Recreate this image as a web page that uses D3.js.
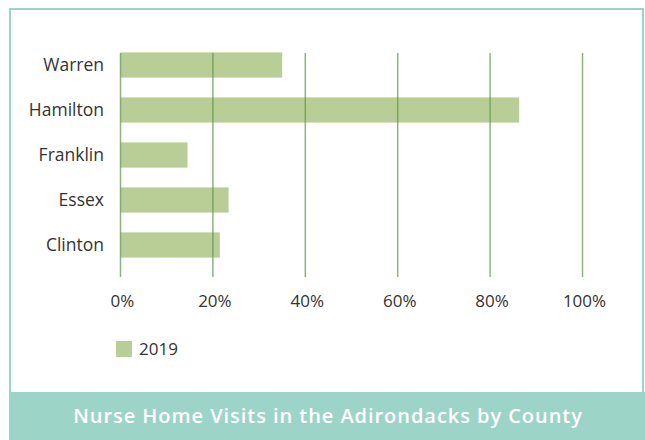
<!DOCTYPE html>
<html>
<head>
<meta charset="utf-8">
<script src="https://cdn.jsdelivr.net/npm/d3@7"></script>
<style>
  body { margin: 0; background: #fff; }
  svg { display: block; }
</style>
</head>
<body>
<div id="showBox"></div>
<script>
// data
const counties = ["Warren", "Hamilton", "Franklin", "Essex", "Clinton"];
const visits2019 = [35, 86.3, 14.5, 23.4, 21.5];
const tickValues = [0, 20, 40, 60, 80, 100];
const seriesName = "2019";
const title = "Nurse Home Visits in the Adirondacks by County";

const width = 645, height = 440;
const teal = "#9dd4c8";
const barColor = "#b8ce96";
const gridColor = "#5f934a";

const svg = d3.select("#showBox").append("svg")
    .attr("width", width)
    .attr("height", height)
    .style("font-family", "'Open Sans', sans-serif");

// frame
svg.append("rect")
    .attr("x", 10).attr("y", 9)
    .attr("width", 633).attr("height", 390)
    .attr("fill", "#fff")
    .attr("stroke", teal)
    .attr("stroke-width", 2);

// title band
svg.append("rect")
    .attr("x", 9).attr("y", 392)
    .attr("width", 636).attr("height", 48)
    .attr("fill", teal);

svg.append("text")
    .attr("x", 328).attr("y", 422.5)
    .attr("text-anchor", "middle")
    .attr("fill", "#fff")
    .style("font-family", "'Open Sans', sans-serif")
    .style("font-weight", 600)
    .style("font-size", "20px")
    .style("letter-spacing", "0.95px")
    .text(title);

const x = d3.scaleLinear().domain([0, 100]).range([120.5, 582.5]);
const y = d3.scaleBand().domain(counties).range([42.5, 267.5]).paddingInner(0.44).paddingOuter(0.22);

// bars
svg.append("g").selectAll("rect")
    .data(counties)
    .join("rect")
    .attr("x", x(0))
    .attr("y", d => y(d))
    .attr("width", (d, i) => x(visits2019[i]) - x(0))
    .attr("height", y.bandwidth())
    .attr("fill", barColor);

// gridlines on top of bars
svg.append("g").selectAll("line")
    .data(tickValues)
    .join("line")
    .attr("x1", d => x(d)).attr("x2", d => x(d))
    .attr("y1", 53).attr("y2", 277)
    .attr("stroke", gridColor)
    .attr("stroke-opacity", 0.7)
    .attr("stroke-width", 1.5);

// x tick labels
svg.append("g").selectAll("text")
    .data(tickValues)
    .join("text")
    .attr("x", d => x(d) + 2)
    .attr("y", 307)
    .attr("text-anchor", "middle")
    .attr("fill", "#333")
    .style("font-size", "17px")
    .text(d => d + "%");

// category labels
svg.append("g").selectAll("text")
    .data(counties)
    .join("text")
    .attr("x", 104)
    .attr("y", d => y(d) + y.bandwidth() / 2)
    .attr("dy", "0.35em")
    .attr("text-anchor", "end")
    .attr("fill", "#333")
    .style("font-size", "17.5px")
    .text(d => d);

// legend
const legend = svg.append("g").attr("transform", "translate(116,341)");
legend.append("rect")
    .attr("width", 16).attr("height", 16)
    .attr("fill", barColor);
legend.append("text")
    .attr("x", 23).attr("y", 13.5)
    .attr("fill", "#333")
    .style("font-size", "17px")
    .text(seriesName);
</script>
</body>
</html>
